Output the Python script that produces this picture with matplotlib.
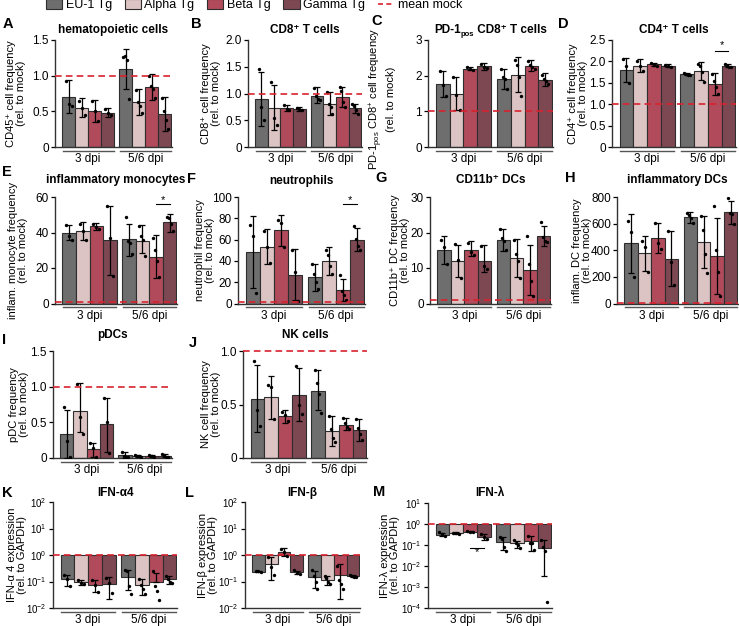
import numpy as np
import matplotlib
matplotlib.use("Agg")
import matplotlib.pyplot as plt
from matplotlib.patches import Patch
from matplotlib.lines import Line2D
import matplotlib.transforms as mtransforms

plt.rcParams["font.family"] = ["Liberation Sans", "DejaVu Sans"]
plt.rcParams["mathtext.fontset"] = "custom"
plt.rcParams["mathtext.rm"] = "Liberation Sans"
plt.rcParams["mathtext.bf"] = "Liberation Sans:bold"
plt.rcParams["mathtext.default"] = "regular"

# bar order: EU-1, Alpha, Beta, Gamma at 3 dpi, then the same at 5/6 dpi
groups = ["EU-1 Tg", "Alpha Tg", "Beta Tg", "Gamma Tg"]
timepoints = ["3 dpi", "5/6 dpi"]
colors = ["#6e6e6e", "#dcc4c4", "#b14b5b", "#7d4852"]

# A  hematopoietic cells
cd45_mean = [0.70, 0.55, 0.50, 0.48, 1.10, 0.63, 0.84, 0.46]
cd45_lo = [0.47, 0.42, 0.35, 0.42, 0.81, 0.45, 0.66, 0.23]
cd45_hi = [0.94, 0.68, 0.66, 0.54, 1.38, 0.81, 1.02, 0.70]
cd45_pts = [[0.93, 0.60, 0.57], [0.65, 0.55, 0.45], [0.65, 0.50, 0.36], [0.53, 0.48, 0.45],
            [1.26, 1.28, 1.22, 0.67], [0.80, 0.63, 0.58, 0.47], [1.00, 0.85, 0.82, 0.68], [0.69, 0.50, 0.38, 0.25]]

# B  CD8+ T cells
cd8_mean = [0.90, 0.73, 0.72, 0.71, 0.96, 0.80, 0.94, 0.72]
cd8_lo = [0.40, 0.31, 0.67, 0.68, 0.83, 0.60, 0.75, 0.63]
cd8_hi = [1.40, 1.15, 0.79, 0.74, 1.12, 1.03, 1.13, 0.81]
cd8_pts = [[1.46, 0.75, 0.50], [1.22, 0.55, 0.42], [0.78, 0.71, 0.69], [0.73, 0.71, 0.70],
           [1.10, 0.96, 0.90, 0.87], [1.02, 0.80, 0.75, 0.62], [1.12, 1.05, 0.85, 0.75], [0.80, 0.76, 0.70, 0.62]]

# C  PD-1pos CD8+ T cells
pd1_mean = [1.77, 1.49, 2.20, 2.27, 1.92, 2.03, 2.28, 1.89]
pd1_lo = [1.41, 1.03, 2.15, 2.17, 1.64, 1.53, 2.14, 1.71]
pd1_hi = [2.14, 1.96, 2.25, 2.36, 2.20, 2.53, 2.43, 2.07]
pd1_pts = [[2.13, 1.75, 1.42], [1.95, 1.47, 1.05], [2.24, 2.19, 2.17], [2.33, 2.25, 2.22],
           [2.20, 1.95, 1.90, 1.63], [2.45, 2.30, 1.95, 1.42], [2.40, 2.30, 2.25, 2.18], [2.02, 1.92, 1.85, 1.77]]

# D  CD4+ T cells
cd4_mean = [1.81, 1.90, 1.93, 1.90, 1.71, 1.78, 1.47, 1.90]
cd4_lo = [1.52, 1.75, 1.89, 1.86, 1.68, 1.57, 1.22, 1.86]
cd4_hi = [2.08, 2.06, 1.97, 1.94, 1.74, 1.98, 1.73, 1.94]
cd4_pts = [[2.05, 1.90, 1.50], [2.02, 1.90, 1.78], [1.96, 1.92, 1.90], [1.92, 1.90, 1.88],
           [1.74, 1.71, 1.69, 1.68], [1.95, 1.90, 1.75, 1.52], [1.70, 1.55, 1.40, 1.25], [1.93, 1.90, 1.88, 1.88]]

# E  inflammatory monocytes
mono_mean = [39.5, 40.6, 43.4, 35.5, 36.3, 35.3, 26.3, 45.7]
mono_lo = [36.0, 36.0, 41.5, 16.0, 26.5, 28.5, 14.3, 40.5]
mono_hi = [44.0, 45.7, 45.3, 55.0, 45.0, 44.0, 38.7, 50.4]
mono_pts = [[44, 38, 36], [45, 41, 36], [45, 43, 42], [55, 37, 15.5],
            [48.5, 35, 34, 28], [43.5, 38, 36, 27], [37, 30, 24, 15], [49, 48, 45, 41]]

# F  neutrophils
neut_mean = [48.5, 53.0, 69.0, 27.2, 24.7, 40.0, 12.5, 59.5]
neut_lo = [15.0, 37.5, 54.4, 3.0, 11.6, 26.5, 2.0, 49.0]
neut_hi = [82.0, 70.0, 83.4, 51.0, 37.5, 53.0, 23.0, 71.0]
neut_pts = [[74, 63, 10], [68, 53, 38], [78, 76, 53], [50, 30, 2],
            [37, 28, 20, 14], [50, 46, 35, 28], [27, 12, 8, 3], [73, 61, 54, 50]]

# G  CD11b+ DCs
cd11b_mean = [15.0, 12.1, 15.0, 12.1, 18.0, 12.8, 9.4, 19.0]
cd11b_lo = [11.0, 7.5, 13.3, 9.0, 14.7, 7.5, 2.3, 16.1]
cd11b_hi = [18.9, 16.6, 17.5, 16.4, 21.0, 18.3, 16.6, 21.9]
cd11b_pts = [[18, 16, 11], [16.8, 12.3, 7.2], [17, 14.5, 13.8], [16.3, 10.5, 9.6],
             [21, 18.5, 17.5, 15], [18, 14, 12, 7.2], [19, 11, 6.3, 2], [23, 18.8, 17.5, 17.2]]

# H  inflammatory DCs
idc_mean = [453, 377, 490, 334, 649, 460, 358, 687]
idc_lo = [226, 246, 382, 131, 604, 264, 70, 598]
idc_hi = [674, 510, 604, 548, 691, 654, 645, 767]
idc_pts = [[623, 536, 196], [472, 427, 239], [604, 453, 407], [548, 314, 140],
           [680, 667, 645, 604], [654, 553, 370, 231], [730, 400, 240, 55], [795, 680, 670, 600]]

# I  pDCs
pdc_mean = [0.33, 0.66, 0.12, 0.47, 0.04, 0.03, 0.03, 0.03]
pdc_lo = [0.0, 0.37, 0.02, 0.08, 0.0, 0.02, 0.02, 0.02]
pdc_hi = [0.67, 1.05, 0.21, 0.845, 0.09, 0.04, 0.04, 0.05]
pdc_pts = [[0.71, 0.24, 0.02], [1.04, 0.57, 0.34], [0.21, 0.14, 0.02], [0.84, 0.50, 0.075],
           [0.09, 0.03, 0.02, 0.02], [0.04, 0.03, 0.03, 0.02], [0.04, 0.03, 0.03, 0.02], [0.05, 0.04, 0.02, 0.02]]

# J  NK cells
nk_mean = [0.55, 0.57, 0.39, 0.59, 0.63, 0.25, 0.31, 0.26]
nk_lo = [0.24, 0.36, 0.33, 0.35, 0.45, 0.11, 0.26, 0.16]
nk_hi = [0.87, 0.77, 0.45, 0.84, 0.82, 0.39, 0.37, 0.36]
nk_pts = [[0.91, 0.45, 0.30], [0.68, 0.66, 0.36], [0.43, 0.40, 0.35], [0.86, 0.50, 0.41],
          [0.82, 0.70, 0.60, 0.42], [0.39, 0.27, 0.19, 0.15], [0.37, 0.33, 0.29, 0.27], [0.36, 0.28, 0.22, 0.17]]

# K  IFN-a4
ifna_mean = [0.119, 0.094, 0.075, 0.082, 0.145, 0.071, 0.094, 0.119]
ifna_lo = [0.065, 0.071, 0.040, 0.022, 0.046, 0.032, 0.094, 0.080]
ifna_hi = [0.178, 0.115, 0.115, 0.145, 0.280, 0.126, 0.210, 0.160]
ifna_pts = [[0.178, 0.126, 0.067], [0.11, 0.09, 0.08], [0.11, 0.075, 0.04], [0.14, 0.085, 0.038],
            [0.27, 0.24, 0.067, 0.034], [0.12, 0.075, 0.05, 0.035], [0.26, 0.07, 0.042, 0.02], [0.16, 0.12, 0.10, 0.09]]

# L  IFN-b
ifnb_mean = [0.237, 0.46, 1.33, 0.22, 0.145, 0.115, 0.178, 0.16]
ifnb_lo = [0.225, 0.115, 0.89, 0.19, 0.056, 0.075, 0.022, 0.15]
ifnb_hi = [0.25, 0.82, 1.78, 0.26, 0.26, 0.16, 0.45, 0.17]
ifnb_pts = [[0.25, 0.24, 0.23], [0.82, 0.35, 0.18], [1.75, 1.25, 0.95], [0.27, 0.21, 0.19],
            [0.27, 0.16, 0.10, 0.05], [0.16, 0.13, 0.10, 0.08], [0.40, 0.11, 0.08, 0.05], [0.17, 0.16, 0.15, 0.15]]

# M  IFN-lambda
ifnl_mean = [0.31, 0.37, 0.43, 0.25, 0.142, 0.118, 0.148, 0.075]
ifnl_lo = [0.26, 0.33, 0.40, 0.18, 0.059, 0.076, 0.053, 0.0032]
ifnl_hi = [0.38, 0.40, 0.46, 0.33, 0.23, 0.16, 0.26, 0.17]
ifnl_pts = [[0.40, 0.33, 0.27], [0.39, 0.36, 0.33], [0.45, 0.43, 0.41], [0.33, 0.25, 0.20],
            [0.25, 0.20, 0.08, 0.05], [0.18, 0.12, 0.10, 0.07], [0.26, 0.13, 0.12, 0.06], [0.17, 0.082, 0.053, 0.0002]]

W, H = 739, 626
fig = plt.figure(figsize=(W / 100, H / 100), dpi=100)

xpos = np.array([0, 1, 2, 3, 4.4, 5.4, 6.4, 7.4])
mock_red = "#d9222e"


def add_ax(l, r, t, b):
    ax = fig.add_axes([l / W, 1 - b / H, (r - l) / W, (b - t) / H])
    ax._wpx = r - l
    return ax


def panel(ax, mean, lo, hi, pts, ylim, yticks, ylabel, lab_off, log=False, yticklabels=None):
    base = 1.0 if log else 0.0
    mean = np.array(mean)
    for i in range(8):
        ax.bar(xpos[i], mean[i] - base, bottom=base, width=1.0, color=colors[i % 4],
               edgecolor="#2e2e2e", linewidth=0.8, zorder=2)
    err = [mean - np.array(lo), np.array(hi) - mean]
    ax.errorbar(xpos, mean, yerr=err, fmt="none", ecolor="black", elinewidth=0.9,
                capsize=2.5, capthick=0.9, zorder=4)
    for i, p in enumerate(pts):
        offs = np.linspace(-0.22, 0.22, len(p))
        ax.scatter(xpos[i] + offs, p, s=6, color="black", zorder=5, linewidths=0)
    if log:
        ax.set_yscale("log")
    ax.axhline(1.0, color=mock_red, lw=1.2, ls=(0, (4, 2.5)), zorder=6, clip_on=False)
    ax.set_xlim(-1.05, 7.95)
    ax.set_ylim(*ylim)
    ax.set_yticks(yticks)
    if yticklabels is not None:
        ax.set_yticklabels(yticklabels)
    ax.minorticks_off()
    ax.set_xticks([])
    ax.tick_params(axis="y", labelsize=7 if log else 8.5, length=3, width=0.9, pad=1.5)
    for s in ["top", "right"]:
        ax.spines[s].set_visible(False)
    for s in ["left", "bottom"]:
        ax.spines[s].set_linewidth(1.0)
        ax.spines[s].set_color("#333333")
    ax.set_ylabel(ylabel, fontsize=8, linespacing=1.1)
    ax.yaxis.label.set_va("center")
    ax.yaxis.set_label_coords(-lab_off / ax._wpx, 0.5)
    trans = mtransforms.blended_transform_factory(ax.transData, ax.transAxes)
    for g, (x0, x1) in enumerate([(-0.45, 3.45), (3.95, 7.85)]):
        ax.plot([x0, x1], [-0.035, -0.035], transform=trans, color="#555555", lw=1.0, clip_on=False)
        ax.text((x0 + x1) / 2, -0.06, timepoints[g], transform=trans, ha="center", va="top", fontsize=8.5)


def star(ax, y_line, y_star):
    ax.plot([6.4, 7.4], [y_line, y_line], color="black", lw=0.8, zorder=6)
    ax.text(6.9, y_star, "*", ha="center", va="center", fontsize=8)


def log_labels(lo, hi):
    return [f"$10^{{{e}}}$" for e in range(lo, hi + 1)]


lbl = "(rel. to mock)"

# row 1
axA = add_ax(55, 172, 40, 147)
panel(axA, cd45_mean, cd45_lo, cd45_hi, cd45_pts, (0, 1.5), [0, 0.5, 1.0, 1.5],
      "CD45⁺ cell frequency\n" + lbl, 39, yticklabels=["0", "0.5", "1.0", "1.5"])
axB = add_ax(248, 362, 40, 147)
panel(axB, cd8_mean, cd8_lo, cd8_hi, cd8_pts, (0, 2.0), [0, 0.5, 1.0, 1.5, 2.0],
      "CD8⁺ cell frequency\n" + lbl, 37, yticklabels=["0", "0.5", "1.0", "1.5", "2.0"])
axC = add_ax(428, 553, 40, 147)
panel(axC, pd1_mean, pd1_lo, pd1_hi, pd1_pts, (0, 3), [0, 1, 2, 3],
      "PD-1$_{pos}$ CD8$^{+}$ cell frequency\n" + lbl, 46)
axC.yaxis.set_label_coords(-46 / axC._wpx, 0.45)
axD = add_ax(612, 736, 40, 147)
panel(axD, cd4_mean, cd4_lo, cd4_hi, cd4_pts, (0, 2.5), [0, 0.5, 1.0, 1.5, 2.0, 2.5],
      "CD4⁺ cell frequency\n" + lbl, 34, yticklabels=["0", "0.5", "1.0", "1.5", "2.0", "2.5"])
star(axD, 2.25, 2.38)

# row 2
axE = add_ax(55, 177, 197, 303.5)
panel(axE, mono_mean, mono_lo, mono_hi, mono_pts, (0, 60), [0, 20, 40, 60],
      "inflam. monocyte frequency\n" + lbl, 37)
star(axE, 56.2, 58.5)
axF = add_ax(238, 365, 197, 303.5)
panel(axF, neut_mean, neut_lo, neut_hi, neut_pts, (0, 100), [0, 20, 40, 60, 80, 100],
      "neutrophil frequency\n" + lbl, 33)
star(axF, 93.5, 97.5)
axG = add_ax(430, 551, 197, 303.5)
panel(axG, cd11b_mean, cd11b_lo, cd11b_hi, cd11b_pts, (0, 30), [0, 10, 20, 30],
      "CD11b⁺ DC frequency\n" + lbl, 30)
axH = add_ax(617, 738, 197, 303.5)
panel(axH, idc_mean, idc_lo, idc_hi, idc_pts, (0, 800), [0, 200, 400, 600, 800],
      "inflam. DC frequency\n" + lbl, 35)

# row 3
axI = add_ax(53, 172, 351, 458)
panel(axI, pdc_mean, pdc_lo, pdc_hi, pdc_pts, (0, 1.5), [0, 0.5, 1.0, 1.5],
      "pDC frequency\n" + lbl, 34, yticklabels=["0", "0.5", "1.0", "1.5"])
axJ = add_ax(243, 367, 351, 458)
panel(axJ, nk_mean, nk_lo, nk_hi, nk_pts, (0, 1.0), [0, 0.5, 1.0],
      "NK cell frequency\n" + lbl, 32, yticklabels=["0", "0.5", "1.0"])

# row 4
lblg = "(rel. to GAPDH)"
axK = add_ax(53, 177, 502, 608)
panel(axK, ifna_mean, ifna_lo, ifna_hi, ifna_pts, (1e-2, 1e2), [10.0 ** e for e in range(-2, 3)],
      "IFN-α 4 expression\n" + lblg, 36, log=True, yticklabels=log_labels(-2, 2))
axL = add_ax(245, 360, 502, 608)
panel(axL, ifnb_mean, ifnb_lo, ifnb_hi, ifnb_pts, (1e-2, 1e2), [10.0 ** e for e in range(-2, 3)],
      "IFN-β expression\n" + lblg, 37, log=True, yticklabels=log_labels(-2, 2))
axM = add_ax(428, 552, 503, 608)
panel(axM, ifnl_mean, ifnl_lo, ifnl_hi, ifnl_pts, (1e-4, 1e1), [10.0 ** e for e in range(-4, 2)],
      "IFN-λ expression\n" + lblg, 38, log=True, yticklabels=log_labels(-4, 1))
axM.plot([2, 3], [0.076, 0.076], color="black", lw=0.8, zorder=6)
axM.text(2.5, 0.045, "*", ha="center", va="center", fontsize=8)

# titles and panel letters
titles = [
    (axA, "hematopoietic cells", 30), (axB, "CD8⁺ T cells", 30),
    (axD, "CD4⁺ T cells", 30),
    (axE, "inflammatory monocytes", 180), (axF, "neutrophils", 181),
    (axG, "CD11b⁺ DCs", 180), (axH, "inflammatory DCs", 180),
    (axI, "pDCs", 335), (axJ, "NK cells", 335),
    (axK, "IFN-α4", 493), (axL, "IFN-β", 493), (axM, "IFN-λ", 493),
]
for ax, t, ypx in titles:
    bb = ax.get_position()
    fig.text((bb.x0 + bb.x1) / 2, 1 - ypx / H, t, ha="center", va="center",
             fontsize=8.5, fontweight="bold")

# title of C built from pieces so the subscript stays small
renderer = fig.canvas.get_renderer()
pieces = [("PD-1", 8.5, 0), ("pos", 5.5, -3), (" CD8⁺ T cells", 8.5, 0)]
objs = []
for s, fs, dy in pieces:
    objs.append((fig.text(0, 0, s, fontsize=fs, fontweight="bold", ha="left", va="baseline"), dy))
widths = [o.get_window_extent(renderer).width for o, _ in objs]
bbC = axC.get_position()
x = (bbC.x0 + bbC.x1) / 2 * W - sum(widths) / 2
for (o, dy), w in zip(objs, widths):
    o.set_position((x / W, 1 - (33 - dy) / H))
    x += w

letters = [("A", 8, 24), ("B", 196, 24), ("C", 377, 21), ("D", 563, 24),
           ("E", 7, 172), ("F", 191, 179), ("G", 381, 178), ("H", 570, 178),
           ("I", 4, 340), ("J", 193, 343),
           ("K", 7, 493), ("L", 190, 493), ("M", 379, 492)]
for l, xp, yp in letters:
    fig.text(xp / W, 1 - yp / H, l, ha="center", va="center", fontsize=10.5, fontweight="bold")

# legend
handles = [Patch(facecolor=c, edgecolor="#2e2e2e", linewidth=0.8) for c in colors]
handles.append(Line2D([0], [0], color=mock_red, lw=1.2, ls=(0, (3, 2))))
fig.legend(handles, groups + ["mean mock"], loc="center", bbox_to_anchor=(254 / W, 1 - 5 / H),
           ncol=5, frameon=False, fontsize=9, handlelength=1.3, handleheight=0.9,
           handletextpad=0.3, columnspacing=1.0, borderpad=0)

fig.savefig("out.png", dpi=100)
